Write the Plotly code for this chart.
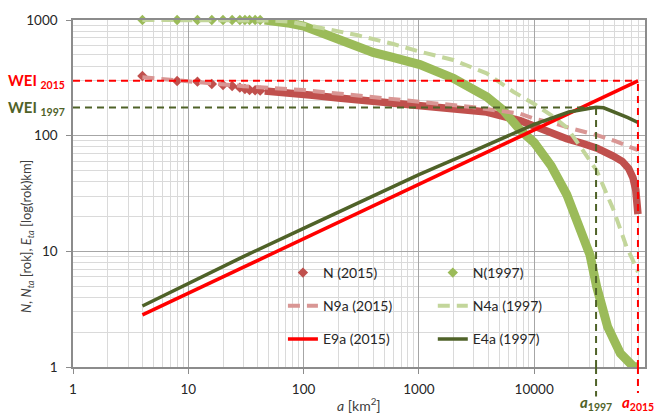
import math
import plotly.graph_objects as go

# ---------------- data ----------------
# N (2015): sparse observed points (diamonds) and dense part (forms a band)
n2015_a_sparse = [4, 8, 12, 16, 20, 24, 28, 31, 34, 38, 42]
n2015_sparse = [328, 297, 293, 280, 274, 269, 260, 253, 248, 247, 245]
n2015_a_dense = [46, 62, 87, 113, 200, 289, 500, 1020, 2000, 3870, 7530, 10000, 14000,
                 19100, 26000, 35000, 48000, 58000, 66000, 72000, 76000, 78500, 79400]
n2015_dense = [243, 239, 232, 225, 212, 205, 195, 184, 172, 160, 135, 120, 106,
               94, 86, 78, 67, 60, 52, 43, 34, 26, 21]

# N (1997)
n1997_a_sparse = [4, 8, 12, 16, 20, 24, 28, 31, 34, 38, 42]
n1997_sparse = [1000, 1000, 1000, 1000, 1000, 1000, 1000, 1000, 1000, 1000, 1000]
n1997_a_dense = [46, 60, 76, 100, 148, 200, 289, 400, 561, 1020, 1990, 2770, 3870, 5350,
                 7530, 10000, 14000, 19140, 25000, 30470, 34800, 43300, 55900, 65000,
                 72300, 79400]
n1997_dense = [1000, 985, 936, 887, 767, 672, 588, 525, 482, 412, 313, 265, 217, 167,
               112, 87, 55, 31, 16.4, 9.3, 4.95, 2.23, 1.31, 1.08, 1.01, 1.0]

# N9a (2015) model
n9a_a = [4, 10, 30, 100, 300, 1000, 3000, 7500, 10000, 15000, 20000, 35000, 50000, 79400]
n9a = [320, 293, 268, 248, 222, 199, 176, 155, 140, 128, 117, 101, 90, 75]

# N4a (1997) model
n4a_a = [4, 50, 76, 150, 289, 600, 1020, 1990, 3870, 6590, 10000, 14650, 19100, 25200,
         34800, 48600, 55900, 63100, 72000, 79400]
n4a = [1000, 990, 967, 850, 741, 620, 532, 451, 346, 240, 188, 146, 118, 80,
       50, 23, 15, 11, 8.3, 6.6]

# E9a (2015)
e9a_a = [4, 10, 100, 1000, 10000, 79400]
e9a = [2.82, 4.34, 12.8, 38.5, 113, 298]

# E4a (1997)
e4a_a = [4, 10, 30, 100, 300, 1000, 3000, 6590, 10000, 20000, 30000, 34400, 40000,
         50000, 65000, 79400]
e4a = [3.37, 5.3, 9.0, 15.8, 26.5, 46, 74, 104, 125, 160, 174, 176, 174, 160, 143, 130]

# reference values
wei_2015, a_2015 = 298, 79400
wei_1997, a_1997 = 175, 34400

x_ticks = [1, 10, 100, 1000, 10000]
x_ticklabels = ["1", "10", "100", "1000", "10000"]
y_ticks = [1, 10, 100, 1000]
y_ticklabels = ["1", "10", "100", "1000"]

# ---------------- colours ----------------
C_N15 = "#c0504d"
C_N97 = "#9bbb59"
C_N9A = "#d99694"
C_N4A = "#c3d69b"
C_E9A = "#ff0000"
C_E4A = "#4f6228"
FONT = "Lato"

fig = go.Figure()

# N (2015)
fig.add_trace(go.Scatter(x=n2015_a_dense, y=n2015_dense, mode="lines",
                         line=dict(color=C_N15, width=7.5), showlegend=False,
                         hoverinfo="skip"))
fig.add_trace(go.Scatter(x=n2015_a_sparse, y=n2015_sparse, mode="markers", name="N (2015)",
                         marker=dict(symbol="diamond", size=8, color=C_N15),
                         cliponaxis=False, legend="legend", legendgroup="g1"))
# N (1997)
fig.add_trace(go.Scatter(x=n1997_a_dense, y=n1997_dense, mode="lines",
                         line=dict(color=C_N97, width=9), showlegend=False,
                         hoverinfo="skip"))
fig.add_trace(go.Scatter(x=n1997_a_sparse, y=n1997_sparse, mode="markers", name="N(1997)",
                         marker=dict(symbol="diamond", size=8, color=C_N97),
                         cliponaxis=False, legend="legend2", legendgroup="h1"))
# N9a / N4a
fig.add_trace(go.Scatter(x=n9a_a, y=n9a, mode="lines", name="N9a (2015)",
                         line=dict(color=C_N9A, width=4, dash="12px,7px"),
                         legend="legend", legendgroup="g2"))
fig.add_trace(go.Scatter(x=n4a_a, y=n4a, mode="lines", name="N4a (1997)",
                         line=dict(color=C_N4A, width=4, dash="12px,7px"),
                         legend="legend2", legendgroup="h2"))
# E9a / E4a
fig.add_trace(go.Scatter(x=e9a_a, y=e9a, mode="lines", name="E9a (2015)",
                         line=dict(color=C_E9A, width=3.5),
                         legend="legend", legendgroup="g3"))
fig.add_trace(go.Scatter(x=e4a_a, y=e4a, mode="lines", name="E4a (1997)",
                         line=dict(color=C_E4A, width=3.5),
                         legend="legend2", legendgroup="h3"))

shapes = [
    # white box behind the legend
    dict(type="rect", xref="paper", yref="paper", x0=0.344, x1=0.857, y0=0.04, y1=0.317,
         fillcolor="white", line=dict(width=0), layer="between"),
    # WEI 2015 lines
    dict(type="line", xref="x", yref="y", x0=1, x1=a_2015, y0=wei_2015, y1=wei_2015,
         line=dict(color="#ff0000", width=2, dash="7px,5px"), layer="above"),
    dict(type="line", xref="x", yref="y", x0=a_2015, x1=a_2015, y0=1, y1=wei_2015,
         line=dict(color="#ff0000", width=2, dash="7px,5px"), layer="above"),
    dict(type="line", xref="x", yref="paper", x0=a_2015, x1=a_2015, y0=0, y1=-0.075,
         line=dict(color="#ff0000", width=2, dash="7px,5px"), layer="above"),
    # WEI 1997 lines
    dict(type="line", xref="x", yref="y", x0=1, x1=a_1997, y0=wei_1997, y1=wei_1997,
         line=dict(color=C_E4A, width=2, dash="7px,5px"), layer="above"),
    dict(type="line", xref="x", yref="y", x0=a_1997, x1=a_1997, y0=1, y1=wei_1997,
         line=dict(color=C_E4A, width=2, dash="7px,5px"), layer="above"),
    dict(type="line", xref="x", yref="paper", x0=a_1997, x1=a_1997, y0=0, y1=-0.085,
         line=dict(color=C_E4A, width=2, dash="7px,5px"), layer="above"),
]

annotations = [
    dict(xref="paper", yref="y", x=-0.0105, y=math.log10(wei_2015), xanchor="right",
         yanchor="middle", showarrow=False,
         text="<b>WEI <sub>2015</sub></b>", font=dict(family=FONT, size=15, color="#ff0000")),
    dict(xref="paper", yref="y", x=-0.0105, y=math.log10(wei_1997), xanchor="right",
         yanchor="middle", showarrow=False,
         text="<b>WEI <sub>1997</sub></b>", font=dict(family=FONT, size=15, color=C_E4A)),
    dict(xref="x", yref="paper", x=math.log10(a_1997), y=-0.105, xanchor="center",
         yanchor="middle", showarrow=False,
         text="<b><i>a</i><sub>1997</sub></b>", font=dict(family=FONT, size=15, color=C_E4A)),
    dict(xref="x", yref="paper", x=math.log10(a_2015), y=-0.105, xanchor="center",
         yanchor="middle", showarrow=False,
         text="<b><i>a</i><sub>2015</sub></b>", font=dict(family=FONT, size=15, color="#ff0000")),
    dict(xref="paper", yref="paper", x=0.5, y=-0.107, xanchor="center", yanchor="middle",
         showarrow=False, text="<i>a</i> [km<sup>2</sup>]",
         font=dict(family=FONT, size=14, color="#404040")),
    dict(xref="paper", yref="paper", x=-0.08, y=0.375, xanchor="center", yanchor="middle",
         showarrow=False, textangle=-90,
         text="<i>N</i>, <i>N<sub>ta</sub></i> [rok], <i>E<sub>ta</sub></i> [log(rok)km]",
         font=dict(family=FONT, size=13, color="#404040")),
]

axis_common = dict(
    type="log", showline=True, linecolor="#8c8c8c", linewidth=1.5, mirror=True,
    showgrid=True, gridcolor="#a6a6a6", gridwidth=1, ticks="outside", ticklen=5,
    tickcolor="#8c8c8c", zeroline=False,
    tickfont=dict(family=FONT, size=13.5, color="#262626"),
    minor=dict(dtick="D1", showgrid=True, gridcolor="#dadada", gridwidth=1, ticks=""),
)

fig.update_layout(
    width=660, height=414,
    margin=dict(l=73, r=15, t=20, b=47),
    paper_bgcolor="white", plot_bgcolor="white",
    xaxis=dict(axis_common, range=[0, 4.961], tickvals=x_ticks, ticktext=x_ticklabels,
               ticklabelstandoff=4),
    yaxis=dict(axis_common, range=[0, 3], tickvals=y_ticks, ticktext=y_ticklabels,
               ticklabelstandoff=6),
    shapes=shapes,
    annotations=annotations,
    legend=dict(x=0.367, y=0.317, xanchor="left", yanchor="top", bgcolor="rgba(0,0,0,0)",
                font=dict(family=FONT, size=14, color="#262626"), tracegroupgap=12,
                itemwidth=30),
    legend2=dict(x=0.629, y=0.317, xanchor="left", yanchor="top", bgcolor="rgba(0,0,0,0)",
                 font=dict(family=FONT, size=14, color="#262626"), tracegroupgap=12,
                 itemwidth=30),
)

# remove the browser's default 8px page margin so the figure sits at the window corner
fig.write_html("out.html",
               config={"displayModeBar": False},
               post_script="document.body.style.margin='0';document.body.style.overflow='hidden';")
